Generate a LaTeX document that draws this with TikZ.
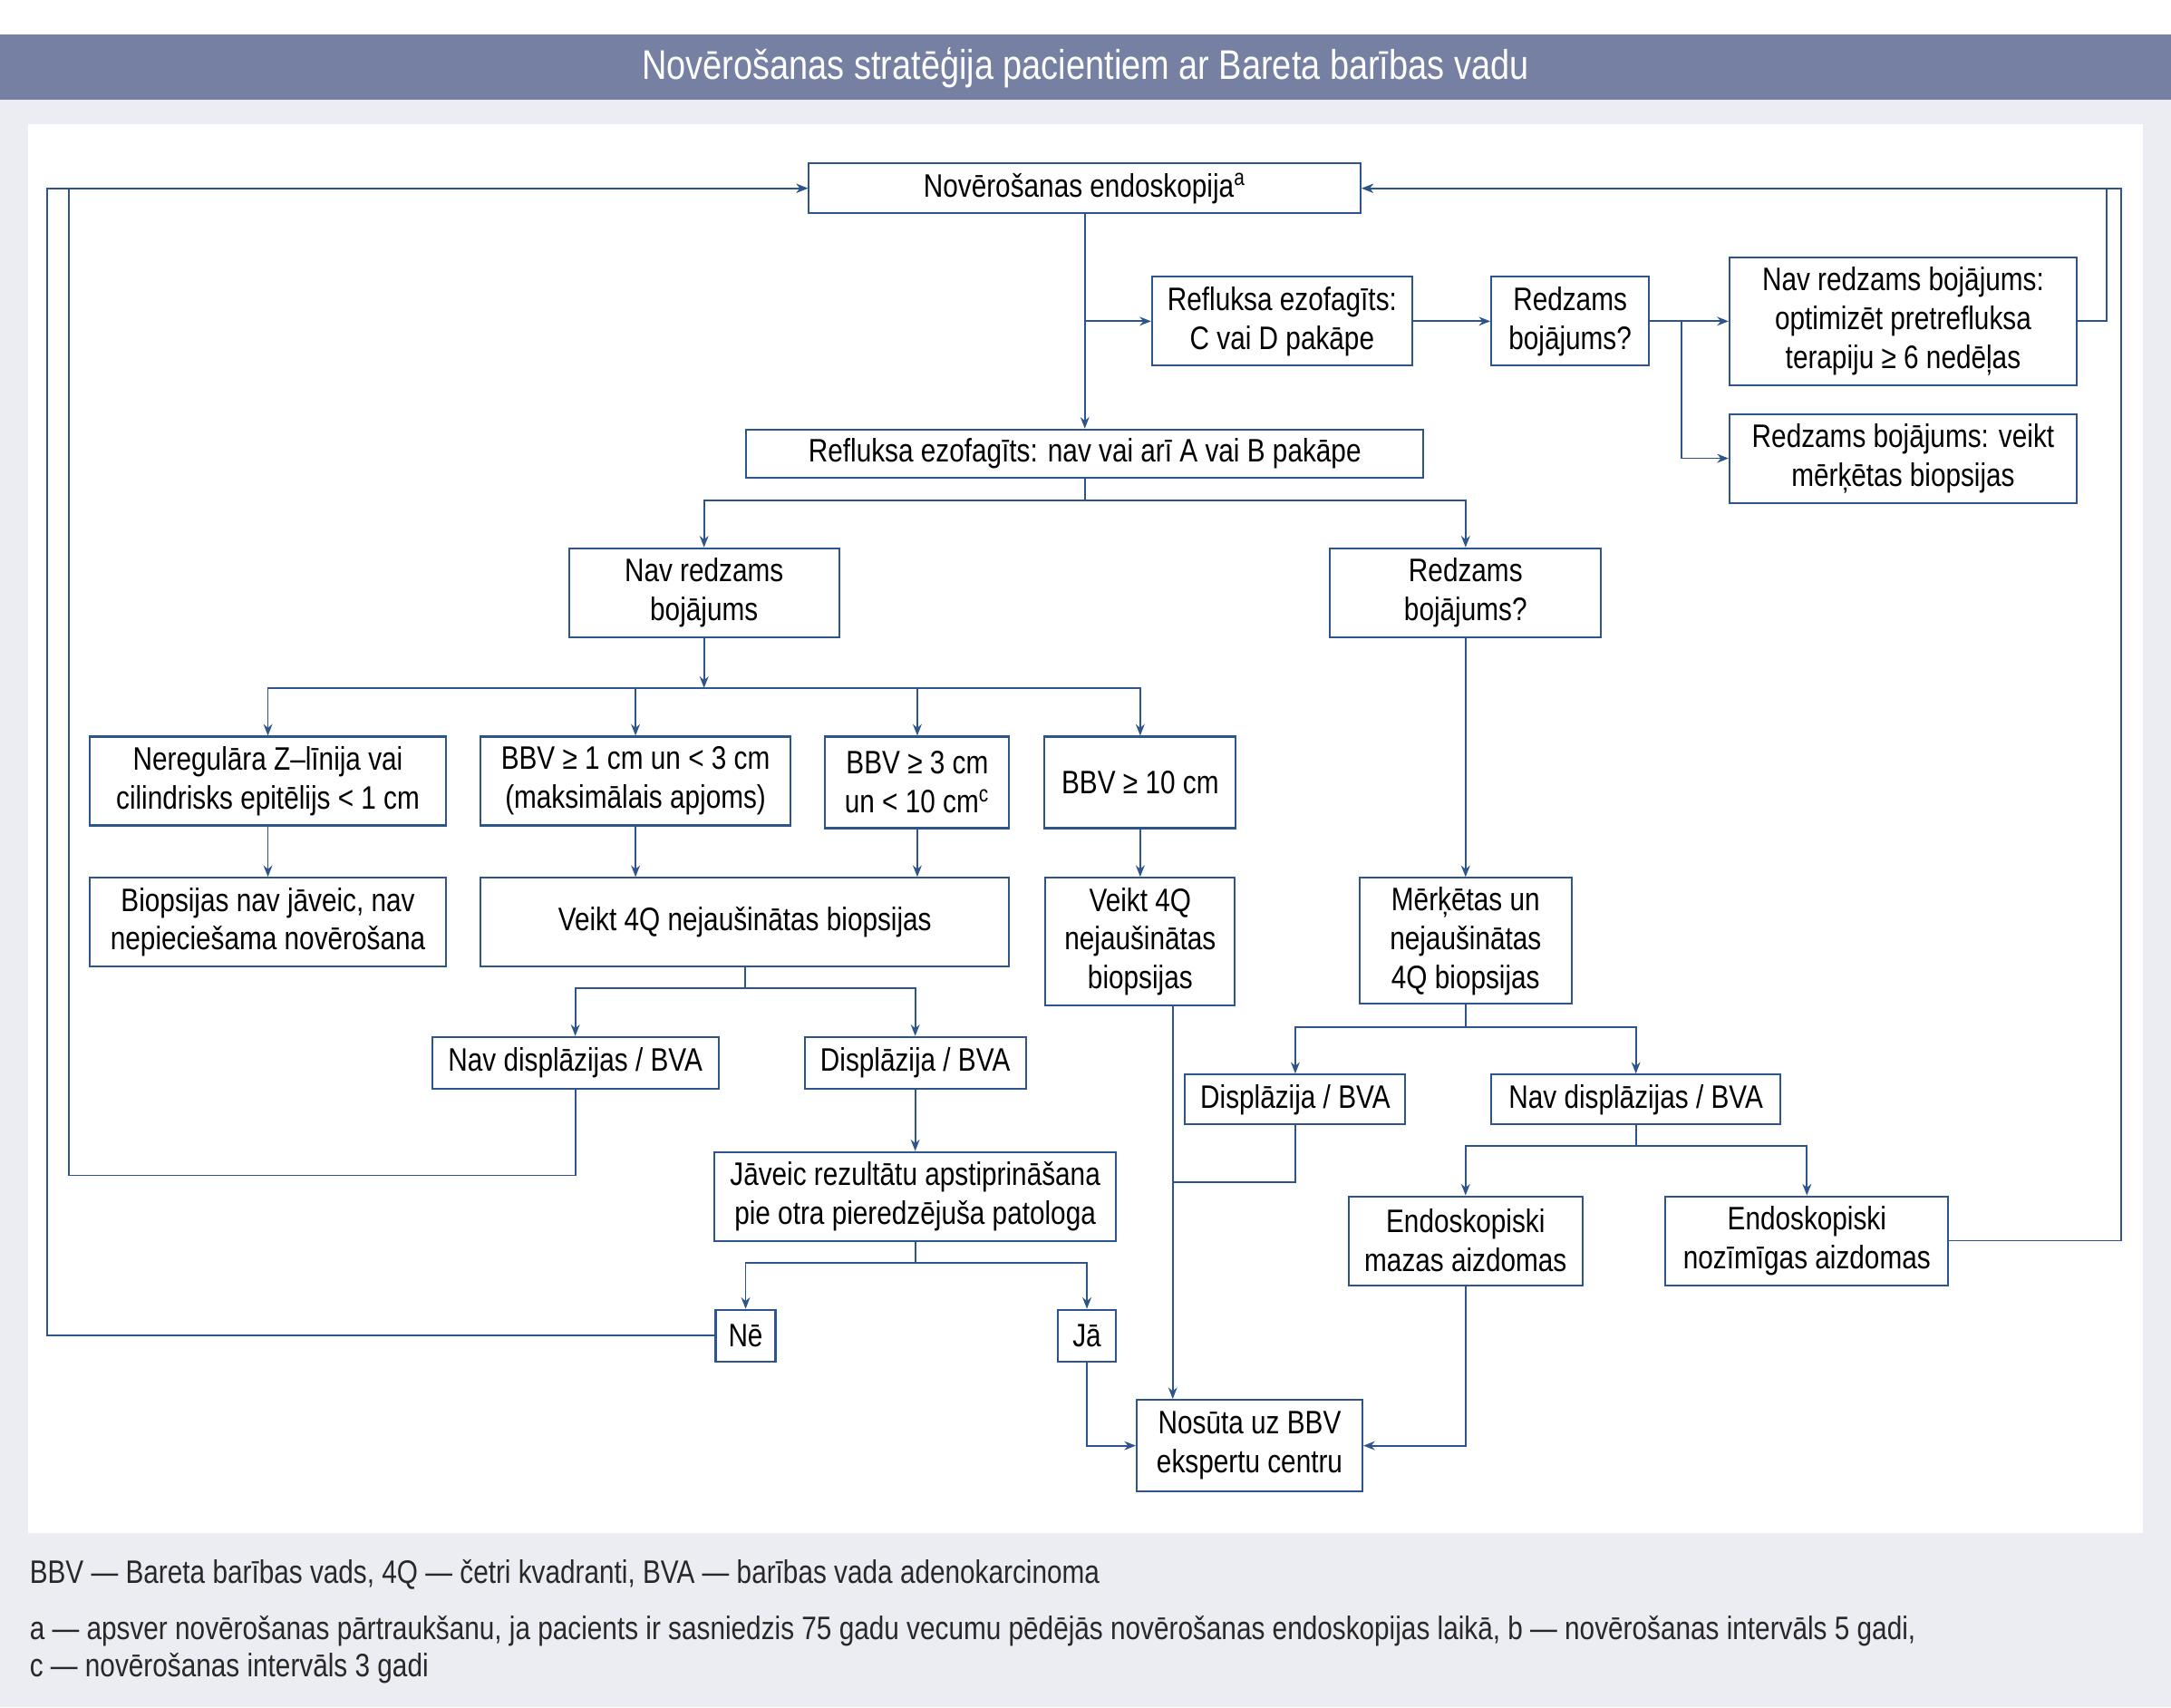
\documentclass[tikz,border=0pt]{standalone}
\usepackage{fontspec}
\setmainfont{Liberation Sans}[FakeStretch=0.83]
\usepackage{tikz}
\usetikzlibrary{calc}
\usetikzlibrary{arrows.meta, positioning}

\definecolor{linie}{RGB}{46,84,140}
\definecolor{fons}{RGB}{236,237,243}
\definecolor{galva}{RGB}{118,128,163}
\definecolor{piez}{RGB}{40,40,40}
\newcommand{\boxfont}{\fontsize{10.2}{12.2}\selectfont}

\begin{document}
\begin{tikzpicture}[
    x=0.015274cm, y=-0.015274cm,
    every node/.style={font=\boxfont},
    box/.style={draw=linie, line width=0.6pt, fill=white, align=center, inner sep=1pt, minimum height=0.98cm},
    arrow/.style={-{Stealth[length=3.6pt,width=2.8pt]}, draw=linie, line width=0.5pt},
    link/.style={draw=linie, line width=0.5pt}
]
\useasboundingbox (0,0) rectangle (1568,1233);

% fons un virsraksts
\fill[fons] (0,0) rectangle (1568,1233);
\fill[white] (0,0) rectangle (1568,25);
\fill[galva] (0,25) rectangle (1568,72);
\fill[white] (20,90) rectangle (1548,1107);
\node[text=white, font=\fontsize{13}{15}\selectfont] (ttl) at (784,49)
    {Novērošanas stratēģija pacientiem ar Bareta barības vadu};

% Novērošanas endoskopija
\node[box, minimum width=6.09cm, minimum height=0.55cm] (endo) at (783.5,136)
    {Novērošanas endoskopija\textsuperscript{a}};

% Refluksa ezofagīts C/D
\node[box, minimum width=2.87cm] (refcd) at (926,232)
    {Refluksa ezofagīts:\\C vai D pakāpe};
\node[box, minimum width=1.74cm] (redz) at (1134,232)
    {Redzams\\bojājums?};
\node[box, minimum width=3.83cm, minimum height=1.41cm] (navopt) at (1374.5,232)
    {Nav redzams bojājums:\\optimizēt pretrefluksa\\terapiju ≥ 6 nedēļas};
\node[box, minimum width=3.83cm] (redzbio) at (1374.5,331)
    {Redzams bojājums: veikt\\mērķētas biopsijas};

% Refluksa ezofagīts A/B
\node[box, minimum width=7.47cm, minimum height=0.53cm] (refab) at (783.5,327.5)
    {Refluksa ezofagīts: nav vai arī A vai B pakāpe};
\node[box, minimum width=2.98cm] (navbo) at (508.5,428)
    {Nav redzams\\bojājums};
\node[box, minimum width=2.99cm] (redzbo) at (1058.5,428)
    {Redzams\\bojājums?};

% garums
\node[box, minimum width=3.93cm] (zlin) at (193.5,564)
    {Neregulāra Z–līnija vai\\cilindrisks epitēlijs < 1 cm};
\node[box, minimum width=3.42cm] (bbvA) at (459,564)
    {BBV ≥ 1 cm un < 3 cm\\(maksimālais apjoms)};
\node[box, minimum width=2.03cm, minimum height=1.01cm] (bbvB) at (662.5,565)
    {BBV ≥ 3 cm\\un < 10 cm\textsuperscript{c}};
\node[box, minimum width=2.11cm, minimum height=1.01cm] (bbvC) at (823.5,565)
    {BBV ≥ 10 cm};

% biopsijas
\node[box, minimum width=3.93cm] (nobio) at (193.5,666)
    {Biopsijas nav jāveic, nav\\nepieciešama novērošana};
\node[box, minimum width=5.83cm] (vk4q) at (538,666)
    {Veikt 4Q nejaušinātas biopsijas};
\node[box, minimum width=2.09cm, minimum height=1.41cm] (vk4qb) at (823.5,680)
    {Veikt 4Q\\nejaušinātas\\biopsijas};
\node[box, minimum width=2.34cm, minimum height=1.39cm] (merk) at (1058.5,679.5)
    {Mērķētas un\\nejaušinātas\\4Q biopsijas};

% displāzija
\node[box, minimum width=3.16cm, minimum height=0.57cm] (navdA) at (415.5,767.5)
    {Nav displāzijas / BVA};
\node[box, minimum width=2.44cm, minimum height=0.57cm] (dispA) at (661,767.5)
    {Displāzija / BVA};
\node[box, minimum width=2.43cm, minimum height=0.55cm] (dispB) at (935.5,794)
    {Displāzija / BVA};
\node[box, minimum width=3.19cm, minimum height=0.55cm] (navdB) at (1181.5,794)
    {Nav displāzijas / BVA};

% apstiprināšana un aizdomas
\node[box, minimum width=4.43cm] (javeic) at (661,864)
    {Jāveic rezultātu apstiprināšana\\pie otra pieredzējuša patologa};
\node[box, minimum width=2.58cm] (endmaz) at (1058.5,896)
    {Endoskopiski\\mazas aizdomas};
\node[box, minimum width=3.12cm] (endnoz) at (1305,896)
    {Endoskopiski\\nozīmīgas aizdomas};
\node[box, minimum width=0.66cm, minimum height=0.57cm] (ne) at (538.5,964.5) {Nē};
\node[box, minimum width=0.64cm, minimum height=0.57cm] (ja) at (785,964.5) {Jā};

% ekspertu centrs
\node[box, minimum width=2.49cm, minimum height=1.01cm] (nosuta) at (902.5,1044)
    {Nosūta uz BBV\\ekspertu centru};

% savienojumi augšā
\draw[arrow] (endo.south) -- (refab.north);
\draw[arrow] (endo.south |- refcd.west) -- (refcd.west);
\draw[arrow] (refcd.east) -- (redz.west);
\draw[arrow] (redz.east) -- (navopt.west);
\coordinate (spR) at ($(redz.east)+(23,0)$);
\draw[arrow] (spR) |- (redzbio.west);
\draw[arrow] (navopt.east) -- ++(21,0) |- (endo.east);
\draw[arrow] (endnoz.east) -- ++(124,0) |- (endo.east);

% kreisā puse
\draw[arrow] (refab.south) -- ++(0,16) -| (navbo.north);
\draw[arrow] (refab.south) -- ++(0,16) -| (redzbo.north);
\coordinate (spA) at ($(navbo.south)+(0,36)$);
\draw[arrow] (navbo.south) -- (spA);
\draw[arrow] (spA) -| (zlin.north);
\draw[arrow] (spA) -| (bbvA.north);
\draw[arrow] (spA) -| (bbvB.north);
\draw[arrow] (spA) -| (bbvC.north);
\draw[arrow] (zlin.south) -- (nobio.north);
\draw[arrow] (bbvA.south) -- (bbvA.south |- vk4q.north);
\draw[arrow] (bbvB.south) -- (bbvB.south |- vk4q.north);
\draw[arrow] (bbvC.south) -- (vk4qb.north);
\draw[arrow] (vk4q.south) -- ++(0,15) -| (navdA.north);
\draw[arrow] (vk4q.south) -- ++(0,15) -| (dispA.north);
\draw[arrow] (navdA.south) -- ++(0,62) -- ++(-365.5,0) |- (endo.west);
\draw[arrow] (dispA.south) -- (javeic.north);
\draw[arrow] (javeic.south) -- ++(0,15) -| (ne.north);
\draw[arrow] (javeic.south) -- ++(0,15) -| (ja.north);
\draw[arrow] (ne.west) -- ++(-482,0) |- (endo.west);
\draw[arrow] (ja.south) |- (nosuta.west);

% labā puse
\coordinate (vx) at ($(vk4qb.south)+(23.5,0)$);
\draw[arrow] (vx) -- (vx |- nosuta.north);
\draw[arrow] (redzbo.south) -- (merk.north);
\draw[arrow] (merk.south) -- ++(0,16) -| (dispB.north);
\draw[arrow] (merk.south) -- ++(0,16) -| (navdB.north);
\draw[link] (dispB.south) |- ($(vx)+(0,127)$);
\draw[arrow] (navdB.south) -- ++(0,15) -| (endmaz.north);
\draw[arrow] (navdB.south) -- ++(0,15) -| (endnoz.north);
\draw[arrow] (endmaz.south) |- (nosuta.east);

% piezīmes
\node[anchor=west, text=piez, inner sep=0pt] (saisin) at (21,1137)
    {BBV — Bareta barības vads, 4Q — četri kvadranti, BVA — barības vada adenokarcinoma};
\node[anchor=west, text=piez, inner sep=0pt, align=left, font=\fontsize{10.2}{11.7}\selectfont] (piezim) at (21,1191.5)
    {a — apsver novērošanas pārtraukšanu, ja pacients ir sasniedzis 75 gadu vecumu pēdējās novērošanas endoskopijas laikā, b — novērošanas intervāls 5 gadi,\\c — novērošanas intervāls 3 gadi};

\end{tikzpicture}
\end{document}
